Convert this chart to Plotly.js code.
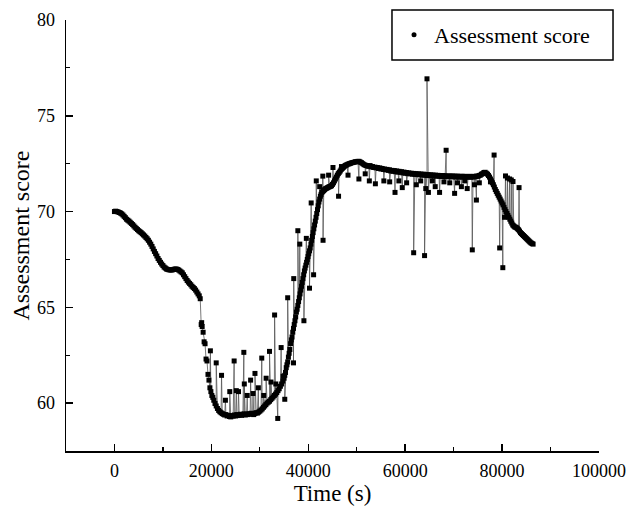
<!DOCTYPE html>
<html>
<head>
<meta charset="utf-8">
<script src="https://cdn.plot.ly/plotly-3.0.1.min.js"></script>
<style>html,body{margin:0;padding:0;background:#fff;}#chart{width:628px;height:509px;}</style>
</head>
<body>
<div id="chart"></div>
<script>
// Base trajectory: time (s) and assessment score
const baseTime = [0,250,500,750,1000,1250,1500,1750,2000,2250,2500,2750,3000,3250,3500,3750,4000,4250,4500,4750,5000,5250,5500,5750,6000,6250,6500,6750,7000,7250,7500,7750,8000,8250,8500,8750,9000,9250,9500,9750,10000,10250,10500,10750,11000,11250,11500,11750,12000,12250,12500,12750,13000,13250,13500,13750,14000,14250,14500,14750,15000,15250,15500,15750,16000,16250,16500,16750,17000,17250,17500,17700,
17900,18000,18100,18300,18500,18700,18900,19100,19300,19500,19700,19900,20100,20300,20500,20750,21000,21250,21500,21750,22000,22250,22500,22750,23000,23250,23500,23750,24000,24250,24500,24750,25000,25250,25500,25750,26000,26250,26500,26750,27000,27250,27500,27750,28000,28250,28500,28750,29000,29250,29500,29750,30000,30250,30500,30750,31000,31250,31500,31750,32000,32250,32500,32750,33000,33250,33500,33750,34000,34250,34500,34750,
35000,35150,35300,35450,35600,35750,35900,36050,36200,36350,36500,36650,36800,36950,37100,37250,37400,37550,37700,37850,38000,38150,38300,38450,38600,38750,38900,39050,39200,39350,39500,39650,39800,39950,40100,40250,40400,40550,40700,40850,41000,41150,41300,41450,41600,41750,41900,42050,42200,42350,42500,42650,42800,43000,43200,43400,43600,43800,44000,44200,44400,44600,44800,45000,45200,45400,45600,45800,46000,46200,46400,46600,46800,47000,47200,47400,47600,47800,48000,48250,48500,48750,49000,49250,49500,49750,50000,50250,50500,50750,51000,51250,51500,51750,52000,
52250,52500,52750,53000,53250,53500,53750,54000,54250,54500,54750,55000,55250,55500,55750,56000,56250,56500,56750,57000,57250,57500,57750,58000,58250,58500,58750,59000,59250,59500,59750,60000,60250,60500,60750,61000,61250,61500,61750,62000,62250,62500,62750,63000,63250,63500,63750,64000,64250,64500,64750,65000,65250,65500,65750,66000,66250,66500,66750,67000,67250,67500,67750,68000,68250,68500,68750,69000,69250,69500,69750,70000,70250,70500,70750,71000,71250,71500,71750,72000,72250,72500,72750,73000,73250,73500,73750,74000,74250,74500,74750,75000,75250,75500,75750,76000,76250,76500,76750,77000,
77200,77400,77600,77800,78000,78200,78400,78600,78800,79000,79200,79400,79600,79800,80000,80200,80400,80600,80800,81000,81200,81400,81600,81800,82000,82200,82400,82600,82800,83000,83200,83400,83600,83800,84000,84200,84400,84600,84800,85000,85200,85400,85600,85800,86000,86200,86400];
const baseScore = [70.0,70.02,70.0,69.98,69.95,69.92,69.88,69.82,69.75,69.68,69.6,69.55,69.5,69.44,69.38,69.32,69.25,69.18,69.12,69.06,69.0,68.95,68.9,68.84,68.78,68.72,68.65,68.58,68.5,68.4,68.3,68.18,68.05,67.92,67.8,67.68,67.55,67.45,67.35,67.26,67.18,67.1,67.05,67.0,66.98,66.96,66.95,66.95,66.96,66.98,67.0,67.0,66.98,66.95,66.9,66.85,66.8,66.7,66.6,66.5,66.4,66.32,66.25,66.18,66.1,66.04,65.98,65.9,65.8,65.7,65.6,65.45,
64.1,64.2,64.0,63.7,63.2,63.1,62.3,62.2,61.5,61.2,60.8,60.6,60.4,60.3,60.15,59.98,59.85,59.72,59.62,59.55,59.5,59.45,59.42,59.38,59.4,59.33,59.36,59.3,59.28,59.35,59.32,59.38,59.33,59.4,59.35,59.38,59.42,59.36,59.4,59.44,59.38,59.42,59.4,59.45,59.42,59.47,59.43,59.4,59.46,59.5,59.48,59.53,59.58,59.64,59.7,59.78,59.85,59.92,60.0,60.05,60.1,60.18,60.25,60.32,60.4,60.47,60.55,60.65,60.75,60.88,61.0,61.15,
61.3,61.45,61.6,61.85,62.0,62.15,62.4,62.6,62.8,63.1,63.3,63.45,63.7,63.9,64.1,64.3,64.5,64.75,64.9,65.1,65.3,65.5,65.7,65.9,66.1,66.3,66.5,66.7,66.9,67.05,67.2,67.35,67.5,67.65,67.8,67.95,68.1,68.3,68.5,68.7,68.9,69.1,69.3,69.5,69.7,69.9,70.1,70.3,70.5,70.65,70.8,70.9,71.0,71.05,71.1,71.15,71.2,71.22,71.25,71.28,71.3,71.32,71.35,71.42,71.5,71.6,71.7,71.8,71.9,71.98,72.05,72.12,72.2,72.25,72.3,72.35,72.4,72.42,72.45,72.48,72.5,72.52,72.55,72.56,72.58,72.6,72.6,72.62,72.62,72.58,72.55,72.5,72.45,72.42,72.4,
72.38,72.36,72.4,72.33,72.35,72.3,72.32,72.28,72.3,72.25,72.28,72.22,72.25,72.2,72.22,72.18,72.2,72.15,72.18,72.12,72.15,72.1,72.14,72.08,72.12,72.06,72.1,72.05,72.08,72.02,72.06,72.0,72.04,71.98,72.02,71.97,72.0,71.95,71.99,71.94,71.98,71.93,71.97,71.92,71.96,71.9,71.95,71.9,71.94,71.88,71.93,71.88,71.92,71.86,71.91,71.86,71.9,71.85,71.89,71.84,71.88,71.83,71.88,71.83,71.87,71.82,71.86,71.82,71.86,71.81,71.86,71.82,71.85,71.8,71.85,71.8,71.84,71.8,71.84,71.8,71.84,71.79,71.83,71.8,71.84,71.79,71.83,71.8,71.84,71.82,71.85,71.84,71.88,71.9,71.95,71.98,72.04,72.05,72.0,71.95,
71.88,71.8,71.7,71.6,71.5,71.4,71.28,71.15,71.05,70.95,70.85,70.75,70.65,70.55,70.45,70.35,70.22,70.1,70.0,69.9,69.8,69.7,69.6,69.5,69.4,69.3,69.25,69.2,69.18,69.15,69.1,69.05,68.98,68.9,68.85,68.8,68.75,68.7,68.65,68.6,68.55,68.5,68.45,68.4,68.36,68.33,68.3];

// Isolated outlier readings (spikes)
const spikeTime = [19800,21000,22100,22900,23800,24700,25150,25600,26700,26800,27400,28100,28600,29000,29700,30400,30800,31300,32000,32300,33050,33300,33700,34400,34800,35150,35750,36950,37000,37850,38250,39100,39600,40250,40600,41100,41650,42350,43000,43050,44200,45100,46250,46850,48200,50450,51750,52600,53850,55600,56800,57900,58700,59400,60300,61750,62300,63200,64000,64250,64500,64800,65600,66200,67100,68000,68450,69200,70200,70800,71600,72300,72800,73850,74300,74700,75300,77600,78350,79500,80150,80500,80700,81100,81550,81900,82250,83500];
const spikeScore = [62.73,62.1,61.45,60.15,60.6,62.2,60.65,60.6,62.65,61.0,60.4,61.2,60.5,61.55,60.8,62.35,60.4,61.3,62.7,61.1,64.6,61.0,59.2,62.9,61.4,60.2,65.5,62.1,66.5,69.0,68.3,64.3,68.6,66.0,70.45,66.7,71.6,71.3,71.85,68.5,71.9,72.3,70.8,72.35,71.9,71.7,71.97,71.6,71.45,71.6,71.55,71.0,71.6,71.25,71.5,67.85,71.4,71.6,67.7,71.2,76.93,71.0,71.6,71.3,71.0,71.55,73.2,71.5,70.95,71.5,71.3,71.6,71.2,68.0,71.4,70.6,71.5,71.55,72.95,68.1,67.07,69.7,71.86,71.75,71.7,71.65,71.57,71.25];

const xTickVals = [0,20000,40000,60000,80000,100000];
const yTickVals = [60,65,70,75,80];
const seriesName = 'Assessment score';

// merge readings in time order
const pts = baseTime.map((t,i)=>[t,baseScore[i]]).concat(spikeTime.map((t,i)=>[t,spikeScore[i]]));
pts.sort((a,b)=>a[0]-b[0]);
const xs = pts.map(p=>p[0]), ys = pts.map(p=>p[1]);

const font = 'Liberation Serif';

const traces = [
  {x: xs, y: ys, type:'scatter', mode:'lines+markers', showlegend:false,
   line:{color:'#555', width:0.8},
   marker:{symbol:'square', size:5, color:'#000'}},
  {x:[null], y:[null], type:'scatter', mode:'markers', name: seriesName,
   marker:{symbol:'circle', size:5, color:'#000'}}
];

const layout = {
  width:628, height:509,
  margin:{l:66, r:29, t:20, b:58},
  paper_bgcolor:'#fff', plot_bgcolor:'#fff',
  font:{family:font, color:'#000', size:18},
  showlegend:true,
  legend:{x:0.6154, y:0.9652, xanchor:'left', yanchor:'middle', borderwidth:0,
          bgcolor:'rgba(0,0,0,0)', font:{size:22, family:font, color:'#000'}},
  shapes:[{type:'rect', xref:'paper', yref:'paper', x0:0.6116, x1:1.0263, y0:0.907, y1:1.0232,
           line:{color:'#000', width:1.5}, fillcolor:'rgba(0,0,0,0)', layer:'above'}],
  xaxis:{range:[-10000,100000], showgrid:false, zeroline:false, showline:true, linecolor:'#000', linewidth:1.5,
         ticks:'inside', ticklen:7, tickwidth:1.5, tickcolor:'#000', tickvals:xTickVals,
         ticktext: xTickVals.map(String),
         minor:{ticks:'inside', ticklen:4, tickwidth:1.2, tickcolor:'#000', dtick:10000, tick0:0, showgrid:false},
         tickfont:{size:18, family:font, color:'#000'}, ticklabelstandoff:3,
         title:{text:'Time (s)', font:{size:23, family:font, color:'#000'}, standoff:0}},
  yaxis:{range:[57.5,80], showgrid:false, zeroline:false, showline:true, linecolor:'#000', linewidth:1.5,
         ticks:'inside', ticklen:7, tickwidth:1.5, tickcolor:'#000', tickvals:yTickVals,
         ticktext: yTickVals.map(String),
         minor:{ticks:'inside', ticklen:4, tickwidth:1.2, tickcolor:'#000', dtick:2.5, tick0:0, showgrid:false},
         tickfont:{size:18, family:font, color:'#000'}, ticklabelstandoff:6,
         title:{text:'Assessment score', font:{size:24, family:font, color:'#000'}, standoff:0}}
};

Plotly.newPlot('chart', traces, layout, {displayModeBar:false, staticPlot:true});
</script>
</body>
</html>
